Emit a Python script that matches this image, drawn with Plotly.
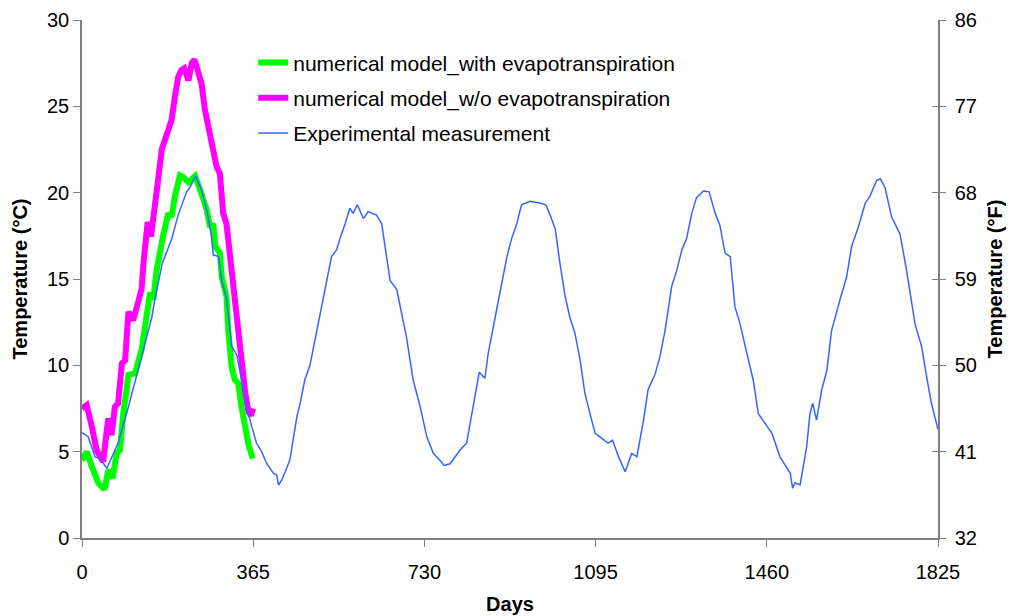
import plotly.graph_objects as go

# Day-of-record sampling points and soil temperatures (degC)
exp_days = [0, 13, 28, 38, 53, 77, 99, 127, 149, 156, 164, 171, 191, 205, 223, 230, 242, 255, 269, 276,
            280, 291, 298, 308, 313, 319, 330, 340, 351, 362, 372, 383, 394, 408, 415, 419, 426, 443, 454, 458,
            465, 475, 486, 497, 507, 518, 525, 532, 543, 550, 561, 571, 578, 587, 600, 610, 628, 639, 646, 657,
            671, 682, 692, 706, 721, 735, 749, 763, 772, 785, 806, 820, 831, 842, 847, 859, 866, 881, 891, 906,
            916, 927, 937, 955, 976, 989, 998, 1009, 1019, 1030, 1040, 1051, 1062, 1072, 1083, 1094, 1108, 1122,
            1131, 1144, 1158, 1172, 1183, 1197, 1207, 1222, 1232, 1243, 1257, 1268, 1279, 1289, 1300, 1310, 1325,
            1337, 1350, 1360, 1371, 1382, 1392, 1403, 1414, 1431, 1442, 1456, 1471, 1488, 1510, 1515, 1520, 1531,
            1538, 1545, 1552, 1558, 1566, 1577, 1588, 1598, 1616, 1630, 1641, 1655, 1670, 1680, 1694, 1702, 1712,
            1726, 1744, 1758, 1776, 1790, 1801, 1811, 1825]
exp_temp = [6.1, 5.87, 4.7, 4.6, 4.04, 5.5, 7.6, 10.5, 12.8, 13.9, 14.9, 15.9, 17.3, 18.7, 20.05, 20.3, 20.96, 20.15, 18.6, 17.45,
            16.4, 16.3, 14.9, 13.9, 12.6, 11.1, 10.6, 9.15, 7.6, 6.45, 5.5, 5.0, 4.3, 3.75, 3.65, 3.07, 3.36, 4.5, 6.45, 7.0,
            7.8, 9.15, 10.0, 11.5, 13.0, 14.4, 15.3, 16.3, 16.7, 17.35, 18.2, 19.1, 18.8, 19.3, 18.5, 18.9, 18.7, 18.2, 16.9, 14.9,
            14.4, 13.0, 11.6, 9.15, 7.6, 5.87, 4.9, 4.5, 4.2, 4.3, 5.1, 5.5, 7.2, 8.8, 9.6, 9.25, 10.7, 12.8, 14.2, 16.3,
            17.35, 18.2, 19.3, 19.5, 19.4, 19.3, 18.7, 17.9, 15.9, 14.0, 12.8, 11.85, 10.3, 8.4, 7.2, 6.06, 5.77, 5.5,
            5.67, 4.7, 3.84, 4.9, 4.7, 6.8, 8.6, 9.5, 10.5, 12.0, 14.55, 15.5, 16.7, 17.35, 18.8, 19.7, 20.1,
            20.05, 18.8, 18.1, 16.5, 16.3, 13.4, 12.4, 11.1, 9.15, 7.2, 6.64, 6.06, 4.7, 3.75, 2.88, 3.2, 3.07,
            4.13, 5.29, 7.2, 7.8, 6.83, 8.57, 9.7, 12.0, 13.8, 15.1, 16.9, 18.0, 19.4, 19.8, 20.7, 20.8, 20.3,
            18.6, 17.6, 15.5, 12.4, 11.1, 9.3, 7.8, 6.3]

et_days = [0, 10, 21, 35, 48, 56, 65, 74, 81, 88, 99, 113, 127, 138, 145, 152, 159, 173, 184, 191, 198,
           209, 216, 227, 241, 252, 266, 273, 280, 284, 294, 298, 308, 312, 319, 326, 333, 340, 348, 355, 364]
et_temp = [4.5, 5.0, 4.13, 3.17, 2.82, 3.94, 3.46, 4.9, 5.1, 7.2, 9.44, 9.54, 10.9, 13.2, 14.2, 13.8, 15.5, 17.5, 18.8, 18.6, 19.8,
           21.0, 20.9, 20.6, 20.96, 20.15, 19.0, 18.0, 18.2, 16.9, 16.5, 15.1, 14.0, 12.0, 9.9, 9.15, 8.96, 7.6, 6.25, 5.4, 4.6]

noet_days = [0, 10, 21, 31, 45, 53, 56, 63, 70, 77, 85, 92, 99, 109, 120, 127, 131, 140, 147, 156, 163, 170,
             177, 184, 191, 198, 205, 212, 218, 227, 234, 240, 247, 255, 262, 269, 277, 287, 294, 301, 308, 316,
             323, 326, 333, 340, 348, 355, 360, 365]
noet_temp = [7.5, 7.7, 6.45, 5.1, 4.42, 6.64, 6.93, 5.96, 7.6, 7.8, 10.1, 10.3, 13.1, 12.6, 13.8, 14.4, 15.9, 18.3, 17.45, 19.8, 20.9, 22.5,
             23.0, 23.7, 24.2, 25.55, 26.7, 27.1, 27.2, 26.5, 27.5, 27.7, 26.9, 26.3, 24.8, 23.8, 23.0, 21.5, 21.1, 18.8, 18.2, 16.3,
             14.0, 13.2, 12.2, 10.1, 8.4, 7.3, 7.1, 7.5]

x_ticks = [0, 365, 730, 1095, 1460, 1825]
f_ticks = [32, 41, 50, 59, 68, 77, 86]

FONT = "Liberation Sans, Arial, sans-serif"
AXIS_GREY = "#7f7f7f"

fig = go.Figure()
fig.add_trace(go.Scatter(x=et_days, y=et_temp, mode="lines",
                         name="numerical model_with evapotranspiration",
                         line=dict(color="#00FF00", width=6), legendgroup="a"))
fig.add_trace(go.Scatter(x=noet_days, y=noet_temp, mode="lines",
                         name="numerical model_w/o evapotranspiration",
                         line=dict(color="#FF00FF", width=6), legendgroup="b"))
fig.add_trace(go.Scatter(x=exp_days, y=exp_temp, mode="lines",
                         name="Experimental measurement",
                         line=dict(color="#3366FF", width=1.5), legendgroup="c"))
# empty traces so the Fahrenheit scale on the right is rendered
fig.add_trace(go.Scatter(x=[None], y=[None], yaxis="y2", showlegend=False, hoverinfo="skip"))
fig.add_trace(go.Scatter(x=[None], y=[None], yaxis="y3", showlegend=False, hoverinfo="skip"))

fig.update_layout(
    width=1012, height=616,
    margin=dict(l=82, r=74, t=20, b=78),
    paper_bgcolor="white", plot_bgcolor="white",
    font=dict(family=FONT, color="black", size=20),
    showlegend=True,
    legend=dict(x=0.2, xanchor="left", y=0.957, yanchor="top",
                font=dict(size=21, family=FONT), bgcolor="rgba(0,0,0,0)",
                tracegroupgap=5, itemwidth=30),
    xaxis=dict(range=[0, 1825], tickvals=x_ticks, ticks="outside", ticklen=7,
               tickcolor=AXIS_GREY, showline=True, linecolor=AXIS_GREY, linewidth=1.5,
               showgrid=False, zeroline=False, ticklabelstandoff=8, automargin=False,
               title=dict(text="<b>Days</b>", font=dict(size=20), standoff=15)),
    yaxis=dict(range=[0, 30], dtick=5, ticks="outside", ticklen=7,
               tickcolor=AXIS_GREY, showline=True, linecolor=AXIS_GREY, linewidth=1.5,
               showgrid=False, zeroline=False, automargin=False,
               title=dict(text="<b>Temperature (°C)</b>", font=dict(size=20), standoff=14)),
    yaxis2=dict(range=[32, 86], tickvals=f_ticks, overlaying="y", side="right", anchor="x",
                ticks="outside", ticklen=6, tickcolor=AXIS_GREY, showline=True,
                linecolor=AXIS_GREY, linewidth=1.5, showgrid=False, zeroline=False,
                ticklabelstandoff=5, automargin=False,
                title=dict(text="<b>Temperature (°F)</b>", font=dict(size=20), standoff=12)),
    yaxis3=dict(range=[32, 86], tickvals=f_ticks, overlaying="y", side="right", anchor="x",
                ticks="inside", ticklen=6, tickcolor=AXIS_GREY, showticklabels=False,
                showline=False, showgrid=False, zeroline=False, automargin=False),
)

fig.write_html("out.html")
